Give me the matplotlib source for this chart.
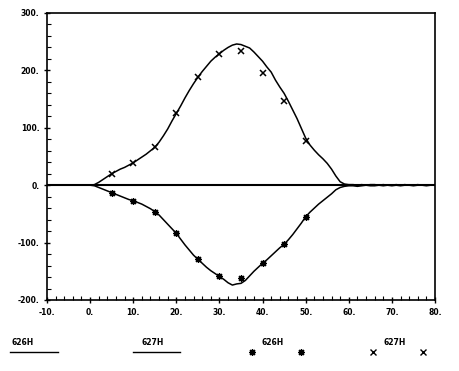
import matplotlib
matplotlib.use("Agg")
import matplotlib.pyplot as plt
from matplotlib.lines import Line2D
from matplotlib.ticker import MultipleLocator, FuncFormatter

# curve samples
curve_x = list(range(-10, 81))
curve_627 = [0] * 11 + [
    1, 5, 10, 15, 20, 24, 28, 31, 35, 39,
    44, 49, 54, 60, 66, 75, 86, 98, 112, 125,
    138, 152, 165, 177, 188, 198, 207, 216, 223, 229,
    235, 240, 244, 246, 245, 242, 239, 232, 224, 216,
    206, 197, 183, 171, 160, 146, 131, 116, 99, 82,
    70, 61, 53, 46, 38, 28, 16, 6, 2, 1,
    1, 0, 1, 0, 1, 1, 0, 1, 0, 0,
    1, 0, 1, 0, 0, 1, 0, 0, 0, 0,
]
curve_626 = [0] * 11 + [
    -1, -4, -7, -10, -13, -16, -19, -22, -25, -27,
    -30, -33, -37, -41, -46, -52, -60, -68, -76, -84,
    -94, -104, -113, -122, -129, -136, -143, -149, -154, -159,
    -164, -170, -174, -172, -171, -166, -158, -150, -143, -136,
    -130, -123, -116, -109, -103, -95, -86, -76, -66, -55,
    -47, -40, -33, -27, -21, -15, -8, -4, -2, -1,
    -1, -2, -1, 0, -1, -1, 0, -1, 0, -1,
    0, -1, 0, 0, -1, 0, 0, -1, 0, 0,
]

# measured points
pts_x = [5, 10, 15, 20, 25, 30, 35, 40, 45, 50]
pts_627 = [20, 39, 67, 126, 188, 229, 233, 196, 146, 77]
pts_626 = [-13, -27, -46, -83, -129, -158, -161, -136, -103, -55]

asterisk = (8, 2, 0)

fig = plt.figure(figsize=(4.59, 3.71), dpi=100)
ax = fig.add_axes([0.1024, 0.1914, 0.8453, 0.7736])

ax.axhline(0, color="black", lw=1.5)
ax.plot(curve_x, curve_627, color="black", lw=1.1)
ax.plot(curve_x, curve_626, color="black", lw=1.1)
ax.plot(pts_x, pts_627, ls="none", marker="x", ms=5, mew=1.1, color="black")
ax.plot(pts_x, pts_626, ls="none", marker=asterisk, ms=5, mew=0.9, color="black")

ax.set_xlim(-10, 80)
ax.set_ylim(-200, 300)
ax.xaxis.set_major_locator(MultipleLocator(10))
ax.xaxis.set_minor_locator(MultipleLocator(2))
ax.yaxis.set_major_locator(MultipleLocator(100))
ax.yaxis.set_minor_locator(MultipleLocator(20))
fmt = FuncFormatter(lambda v, p: "%d." % round(v))
ax.xaxis.set_major_formatter(fmt)
ax.yaxis.set_major_formatter(fmt)
ax.tick_params(which="major", direction="inout", length=5, width=1, labelsize=5.5, pad=3)
ax.tick_params(which="minor", direction="in", length=3, width=0.8)
ax.tick_params(top=False, right=False)
for lab in ax.get_xticklabels() + ax.get_yticklabels():
    lab.set_fontweight("bold")
for s in ax.spines.values():
    s.set_linewidth(1.2)

# legend row under the plot
def fy(py):
    return 1 - py / 371

def fx(px):
    return px / 459

line_y = fy(352)
text_y = fy(345)
fig.add_artist(Line2D([fx(10), fx(58)], [line_y, line_y], color="black", lw=1))
fig.text(fx(12), text_y, "626H", fontsize=5.5, fontweight="bold")
fig.add_artist(Line2D([fx(133), fx(180)], [line_y, line_y], color="black", lw=1))
fig.text(fx(142), text_y, "627H", fontsize=5.5, fontweight="bold")
fig.add_artist(Line2D([fx(252), fx(301)], [line_y, line_y], ls="none",
                      marker=asterisk, ms=5, mew=0.9, color="black"))
fig.text(fx(262), text_y, "626H", fontsize=5.5, fontweight="bold")
fig.add_artist(Line2D([fx(373), fx(423)], [line_y, line_y], ls="none",
                      marker="x", ms=5, mew=1, color="black"))
fig.text(fx(383), text_y, "627H", fontsize=5.5, fontweight="bold")

fig.savefig("out.png", dpi=100)
